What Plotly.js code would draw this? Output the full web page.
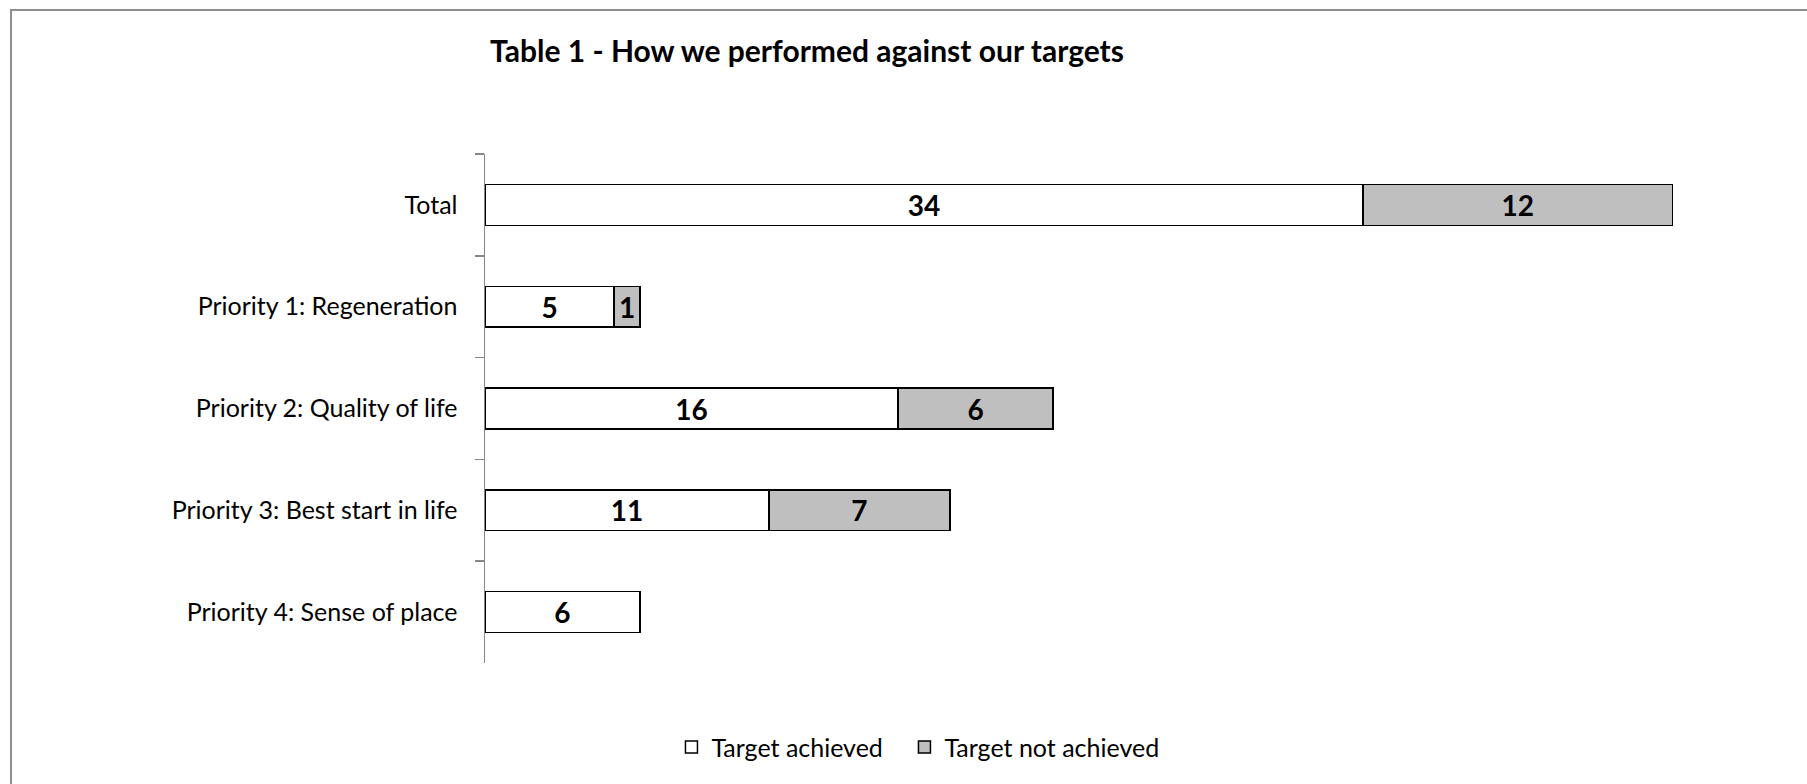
<!DOCTYPE html>
<html>
<head>
<meta charset="utf-8">
<script src="https://cdn.plot.ly/plotly-3.0.1.min.js"></script>
<style>
  html, body { margin: 0; padding: 0; overflow: hidden; background: #ffffff; }
  #chart { position: absolute; left: 0; top: 0; width: 1807px; height: 784px; }
  #frame { position: absolute; left: 10px; top: 9px; width: 3000px; height: 3000px;
           border-left: 2px solid #8e8e8e; border-top: 2px solid #8e8e8e; pointer-events: none; }
</style>
</head>
<body>
<div id="chart"></div>
<div id="frame"></div>
<script>
// Data
const categories = [
  "Total",
  "Priority 1: Regeneration",
  "Priority 2: Quality of life",
  "Priority 3: Best start in life",
  "Priority 4: Sense of place"
];
const targetAchieved = [34, 5, 16, 11, 6];
const targetNotAchieved = [12, 1, 6, 7, null];
const seriesNames = ["Target achieved", "Target not achieved"];
const chartTitle = "Table 1 - How we performed against our targets";

const FONT = "Lato, 'Open Sans', sans-serif";

const traces = [
  {
    type: "bar",
    orientation: "h",
    name: seriesNames[0],
    legendwidth: 188,
    y: categories,
    x: targetAchieved,
    text: targetAchieved.map(v => v == null ? "" : String(v)),
    textposition: "inside",
    insidetextanchor: "middle",
    textangle: 0,
    constraintext: "none",
    textfont: { family: FONT, size: 28, color: "#000000", weight: "bold" },
    marker: { color: "#ffffff", line: { color: "#000000", width: 1.5 } },
    hoverinfo: "skip"
  },
  {
    type: "bar",
    orientation: "h",
    name: seriesNames[1],
    y: categories,
    x: targetNotAchieved,
    text: targetNotAchieved.map(v => v == null ? "" : String(v)),
    textposition: "inside",
    insidetextanchor: "middle",
    textangle: 0,
    constraintext: "none",
    textfont: { family: FONT, size: 28, color: "#000000", weight: "bold" },
    marker: { color: "#bfbfbf", line: { color: "#000000", width: 1.5 } },
    hoverinfo: "skip"
  }
];

const layout = {
  width: 1807,
  height: 784,
  paper_bgcolor: "#ffffff",
  plot_bgcolor: "#ffffff",
  barmode: "stack",
  bargap: 0.6,
  margin: { l: 485, r: 31, t: 154, b: 121, pad: 0 },
  font: { family: FONT, color: "#000000" },
  title: {
    text: "<b>" + chartTitle + "</b>",
    font: { family: FONT, size: 30, color: "#000000" },
    xref: "container", x: 0.4466, xanchor: "center",
    yref: "container", y: 0.9337, yanchor: "middle"
  },
  xaxis: {
    range: [0, 50],
    visible: false,
    showgrid: false,
    zeroline: false,
    fixedrange: true
  },
  yaxis: {
    type: "category",
    autorange: "reversed",
    showline: true,
    linecolor: "#868686",
    linewidth: 1.5,
    ticks: "outside",
    tickson: "boundaries",
    ticklen: 9,
    tickwidth: 1.5,
    tickcolor: "#868686",
    ticklabelstandoff: 21,
    tickfont: { family: FONT, size: 25, color: "#000000" },
    showgrid: false,
    zeroline: false,
    fixedrange: true
  },
  showlegend: true,
  legend: {
    orientation: "h",
    xref: "container", x: 0.508, xanchor: "center",
    yref: "container", y: 0.047, yanchor: "middle",
    font: { family: FONT, size: 25, color: "#000000" },
    traceorder: "normal",
    itemwidth: 30,
    bgcolor: "rgba(0,0,0,0)"
  }
};

Plotly.newPlot("chart", traces, layout, { staticPlot: true, displayModeBar: false });
</script>
</body>
</html>
